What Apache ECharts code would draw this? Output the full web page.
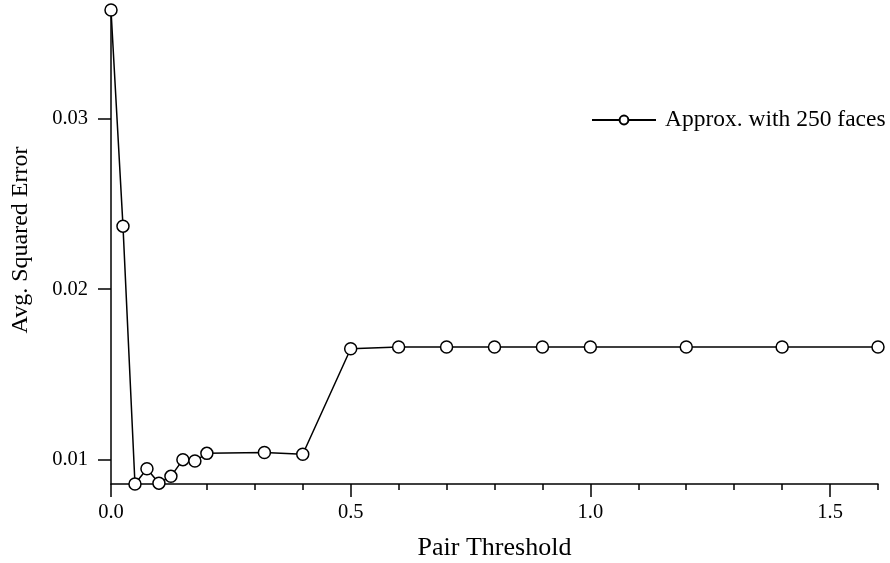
<!DOCTYPE html>
<html>
<head>
<meta charset="utf-8">
<script src="https://cdn.jsdelivr.net/npm/echarts@6/dist/echarts.min.js"></script>
<style>
html,body{margin:0;padding:0;background:#fff;}
#chart{width:890px;height:563px;}
</style>
</head>
<body>
<div id="chart"></div>
<script>
const seriesName = 'Approx. with 250 faces';
const xValues = [0, 0.025, 0.05, 0.075, 0.1, 0.125, 0.15, 0.175, 0.2, 0.32, 0.4, 0.5, 0.6, 0.7, 0.8, 0.9, 1.0, 1.2, 1.4, 1.6];
const yValues = [0.0364, 0.0237, 0.00855, 0.00945, 0.0086, 0.0090, 0.00998, 0.0099, 0.01035, 0.0104, 0.0103, 0.0165, 0.0166, 0.0166, 0.0166, 0.0166, 0.0166, 0.0166, 0.0166, 0.0166];
const xMajorTicks = [0, 0.5, 1.0, 1.5];
const xMinorTicks = [0.1, 0.2, 0.3, 0.4, 0.6, 0.7, 0.8, 0.9, 1.1, 1.2, 1.3, 1.4, 1.6];
const yTicks = [0.01, 0.02, 0.03];
const xTitle = 'Pair Threshold';
const yTitle = 'Avg. Squared Error';

const FONT = 'Liberation Serif';
const chart = echarts.init(document.getElementById('chart'));
const axisLineStyle = {color: '#000', width: 1.5};
chart.setOption({
  animation: false,
  backgroundColor: '#fff',
  textStyle: {fontFamily: FONT, color: '#000'},
  grid: {left: 111, right: 12, top: 10, bottom: 79, containLabel: false, outerBoundsMode: 'none'},
  legend: {
    left: 591, top: 108, padding: 0,
    itemWidth: 64, itemHeight: 11, itemGap: 10,
    textStyle: {fontFamily: FONT, fontSize: 23.5, color: '#000', padding: [0,0,0,4]},
    data: [seriesName]
  },
  xAxis: [{
    type: 'value', min: 0, max: 1.6,
    name: xTitle, nameLocation: 'middle', nameGap: 51,
    nameTextStyle: {fontFamily: FONT, fontSize: 26, color: '#000'},
    axisLine: {show: true, onZero: false, lineStyle: axisLineStyle},
    axisTick: {show: true, customValues: xMajorTicks, length: 13, lineStyle: axisLineStyle},
    axisLabel: {show: true, customValues: xMajorTicks, margin: 18, fontFamily: FONT, fontSize: 20.5, color: '#000',
      formatter: v => v.toFixed(1)},
    splitLine: {show: false}
  }, {
    type: 'value', min: 0, max: 1.6, position: 'bottom',
    axisLine: {show: false, onZero: false},
    axisTick: {show: true, customValues: xMinorTicks, length: 6, lineStyle: axisLineStyle},
    axisLabel: {show: false},
    splitLine: {show: false}
  }],
  yAxis: {
    type: 'value', min: 0.00855, max: 0.0364,
    name: yTitle, nameLocation: 'middle', nameGap: 78, nameRotate: 90,
    nameTextStyle: {fontFamily: FONT, fontSize: 24, color: '#000', padding: [0, 0, 0, 14]},
    axisLine: {show: true, onZero: false, lineStyle: axisLineStyle},
    axisTick: {show: true, customValues: yTicks, length: 13, lineStyle: axisLineStyle},
    axisLabel: {show: true, customValues: yTicks, margin: 23, fontFamily: FONT, fontSize: 20.5, color: '#000',
      formatter: v => v.toFixed(2)},
    splitLine: {show: false}
  },
  series: [{
    name: seriesName,
    type: 'line',
    xAxisIndex: 0,
    data: xValues.map((x, i) => [x, yValues[i]]),
    clip: false,
    symbol: 'circle',
    symbolSize: 12,
    showAllSymbol: true,
    lineStyle: {color: '#000', width: 1.5},
    itemStyle: {color: '#fff', borderColor: '#000', borderWidth: 1.5},
    z: 5
  }]
});
</script>
</body>
</html>
